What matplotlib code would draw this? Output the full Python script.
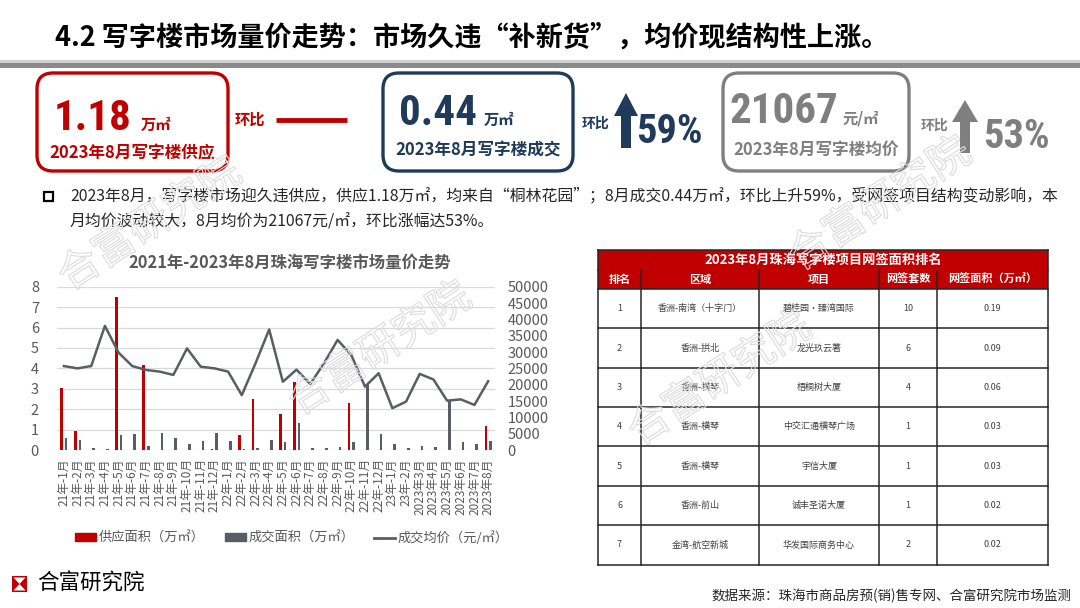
import os
import matplotlib
matplotlib.use('Agg')
import matplotlib.pyplot as plt
import matplotlib.patheffects as pe
from matplotlib import font_manager
from matplotlib.font_manager import FontProperties
from matplotlib.patches import FancyBboxPatch, Rectangle, Polygon, Patch
from matplotlib.lines import Line2D
import numpy as np

plt.rcParams['font.family'] = ['Noto Sans CJK SC', 'DejaVu Sans']

# ---- chart data ----
months = ['21年-1月', '21年-2月', '21年-3月', '21年-4月', '21年-5月', '21年-6月',
          '21年-7月', '21年-8月', '21年-9月', '21年-10月', '21年-11月', '21年-12月',
          '22年-1月', '22年-2月', '22年-3月', '22年-4月', '22年-5月', '22年-6月',
          '22年-7月', '22年-8月', '22年-9月', '22年-10月', '22年-11月', '22年-12月',
          '23年-1月', '23年-2月', '2023年3月', '2023年4月', '2023年5月', '2023年6月',
          '2023年7月', '2023年8月']
supply = [3.05, 0.95, 0, 0, 7.5, 0, 4.16, 0, 0, 0, 0, 0.05,
          0, 0.73, 2.48, 0, 1.78, 3.35, 0, 0, 0, 2.29, 0, 0,
          0, 0, 0, 0, 0, 0, 0, 1.18]
deal = [0.57, 0.49, 0.11, 0.03, 0.74, 0.8, 0.2, 0.85, 0.57, 0.28, 0.42, 0.82,
        0.46, 0.05, 0.1, 0.5, 0.41, 1.3, 0.11, 0.08, 0.15, 0.38, 3.22, 0.77,
        0.29, 0.08, 0.21, 0.13, 2.42, 0.41, 0.28, 0.44]
price = [25700, 25000, 25700, 38000, 29800, 25700, 24500, 24000, 23000, 31100, 25500, 25000,
         24000, 16800, 26500, 36900, 20900, 24600, 20200, 26500, 33700, 29100, 19400, 23500,
         12800, 14800, 23300, 21600, 15100, 15500, 13800, 21067]

# ---- table data ----
tbl_rank = ['1', '2', '3', '4', '5', '6', '7']
tbl_area_name = ['香洲-南湾（十字门）', '香洲-拱北', '香洲-横琴', '香洲-横琴', '香洲-横琴', '香洲-前山', '金湾-航空新城']
tbl_project = ['碧桂园·臻湾国际', '龙光玖云著', '梧桐树大厦', '中交汇通横琴广场', '宇信大厦', '诚丰圣诺大厦', '华发国际商务中心']
tbl_units = ['10', '6', '4', '1', '1', '1', '2']
tbl_sqm = ['0.19', '0.09', '0.06', '0.03', '0.03', '0.02', '0.02']
tbl_header = ['排名', '区域', '项目', '网签套数', '网签面积（万㎡）']

RED = '#C00000'
NAVY = '#203A5A'
GREY = '#7F7F7F'
TXT = '#595959'
DARK = '#5A5D66'


def pick_condensed():
    files = [f.fname for f in font_manager.fontManager.ttflist]
    prefs = ['liberationsansnarrow-bold.', 'robotocondensed-bold.', 'roboto_condensed-bold.',
             'notosans-condensedbold.', 'dejavusanscondensed-bold.', 'opensans-condensedbold.',
             'opensans_condensed-bold.']
    for p in prefs:
        for fn in files:
            if os.path.basename(fn).lower().startswith(p):
                return FontProperties(fname=fn), True
    for fn in files:
        b = os.path.basename(fn).lower()
        if ('condensed' in b or 'narrow' in b) and 'bold' in b and 'italic' not in b \
                and 'semi' not in b and 'extra' not in b:
            return FontProperties(fname=fn), True
    return FontProperties(family='DejaVu Sans', weight='bold'), False


NUM_PROP, CONDENSED = pick_condensed()
NUM_SIZE = 31 if CONDENSED else 21
PCT_SIZE = 29 if CONDENSED else 20

fig = plt.figure(figsize=(10.8, 6.08), dpi=100)
bg = fig.add_axes([0, 0, 1, 1])
bg.set_xlim(0, 1080)
bg.set_ylim(608, 0)
bg.axis('off')

# header
bg.text(55, 38, '4.2 写字楼市场量价走势：市场久违“补新货”，均价现结构性上涨。',
        fontsize=19.5, fontweight='bold', color='black', va='center', ha='left')
bg.add_patch(Rectangle((0, 60), 1080, 2.5, color='#d0d0d0', lw=0))
bg.add_patch(Rectangle((0, 62.5), 1080, 5.5, color='#8a8a8a', lw=0))

# KPI boxes
for x0, x1, c in [(37, 228, RED), (383, 573, NAVY), (723, 909, GREY)]:
    bg.add_patch(FancyBboxPatch((x0, 73), x1 - x0, 98, boxstyle='round,pad=0,rounding_size=16',
                                fc='white', ec=c, lw=2.4))


def big(x, y, s, color, size, ha):
    t = bg.text(x, y, s, ha=ha, va='baseline', fontsize=size, color=color)
    t.set_fontproperties(NUM_PROP)
    t.set_fontsize(size)
    return t


big(132, 130, '1.18', RED, NUM_SIZE, 'right')
bg.text(141, 130, '万㎡', ha='left', va='baseline', fontsize=11, fontweight='bold', color=RED)
bg.text(132, 153, '2023年8月写字楼供应', ha='center', va='center', fontsize=12, fontweight='bold', color=RED)
bg.text(250, 120, '环比', ha='center', va='center', fontsize=11, fontweight='bold', color=RED)
bg.plot([276, 347], [120, 120], color=RED, lw=3.5, solid_capstyle='butt')

big(477, 125, '0.44', NAVY, NUM_SIZE, 'right')
bg.text(484, 125, '万㎡', ha='left', va='baseline', fontsize=11, fontweight='bold', color=NAVY)
bg.text(478, 150, '2023年8月写字楼成交', ha='center', va='center', fontsize=12, fontweight='bold', color=NAVY)
bg.text(596, 124, '环比', ha='center', va='center', fontsize=10, fontweight='bold', color=NAVY)
big(636, 143, '59%', NAVY, PCT_SIZE, 'left')

big(838, 123, '21067', GREY, NUM_SIZE, 'right')
bg.text(843, 123, '元/㎡', ha='left', va='baseline', fontsize=11, fontweight='bold', color=GREY)
bg.text(816, 150, '2023年8月写字楼均价', ha='center', va='center', fontsize=12, fontweight='bold', color=GREY)
bg.text(935, 126, '环比', ha='center', va='center', fontsize=10, fontweight='bold', color=GREY)
big(983, 148, '53%', GREY, PCT_SIZE, 'left')


def up_arrow(cx, top, bottom, head_base, hw, sw, color):
    pts = [(cx - sw, bottom), (cx - sw, head_base), (cx - hw, head_base), (cx, top),
           (cx + hw, head_base), (cx + sw, head_base), (cx + sw, bottom)]
    bg.add_patch(Polygon(pts, closed=True, fc=color, ec='none'))


up_arrow(626, 93, 148, 116, 12, 5, NAVY)
up_arrow(965, 100, 153, 122, 13, 5, GREY)

# bullet paragraph
bg.add_patch(Rectangle((44, 192), 8.5, 8.5, fc='white', ec='black', lw=1.6))
bg.text(70, 196, '2023年8月，写字楼市场迎久违供应，供应1.18万㎡，均来自“桐林花园”；8月成交0.44万㎡，'
        '环比上升59%，受网签项目结构变动影响，本', fontsize=11.4, color='#262626', va='center', ha='left')
bg.text(70, 222, '月均价波动较大，8月均价为21067元/㎡，环比涨幅达53%。',
        fontsize=11.4, color='#262626', va='center', ha='left')

# ---- table ----
cx = [598, 641, 759, 879, 937, 1048]
ty0, ty1, hy1 = 250, 270, 289
rh = (564.5 - hy1) / len(tbl_rank)
bg.add_patch(Rectangle((cx[0], ty0), cx[-1] - cx[0], hy1 - ty0, fc=RED, ec='none'))
bg.text((cx[0] + cx[-1]) / 2, (ty0 + ty1) / 2, '2023年8月珠海写字楼项目网签面积排名',
        ha='center', va='center', fontsize=9.5, fontweight='bold', color='white')
for i, h in enumerate(tbl_header):
    bg.text((cx[i] + cx[i + 1]) / 2, (ty1 + hy1) / 2, h, ha='center', va='center',
            fontsize=8, fontweight='bold', color='white')
line_c = '#262626'
for i in range(len(tbl_rank) + 1):
    y = hy1 + i * rh
    bg.plot([cx[0], cx[-1]], [y, y], color=line_c, lw=1.1)
for x in cx:
    bg.plot([x, x], [ty1, hy1 + rh * len(tbl_rank)], color=line_c, lw=1.1)
bg.plot([cx[0], cx[0]], [ty0, ty1], color=line_c, lw=1.1)
bg.plot([cx[-1], cx[-1]], [ty0, ty1], color=line_c, lw=1.1)
bg.plot([cx[0], cx[-1]], [ty0, ty0], color=line_c, lw=1.1)
for r in range(len(tbl_rank)):
    yc = hy1 + (r + 0.5) * rh
    row = [tbl_rank[r], tbl_area_name[r], tbl_project[r], tbl_units[r], tbl_sqm[r]]
    for i, v in enumerate(row):
        bg.text((cx[i] + cx[i + 1]) / 2, yc, v, ha='center', va='center', fontsize=6.5, color='#404040')

# ---- footer ----
bg.add_patch(Rectangle((12, 576), 15, 16, fc=RED, ec='none'))
bg.add_patch(Polygon([(13.5, 577.5), (25.5, 577.5), (19.5, 584)], fc='white', ec='none'))
bg.add_patch(Polygon([(13.5, 590.5), (25.5, 590.5), (19.5, 584)], fc='white', ec='none'))
bg.text(37, 584, '合富研究院', fontsize=15.5, color='black', va='center', ha='left')
bg.text(1072, 596, '数据来源：珠海市商品房预(销)售专网、合富研究院市场监测',
        fontsize=9.7, color='#262626', va='center', ha='right')

# ---- chart ----
ax = fig.add_axes([57 / 1080, 1 - 450 / 608, 438 / 1080, 163.3 / 608])
x = np.arange(len(months))
ax.bar(x - 0.17, supply, width=0.19, color=RED, zorder=3)
ax.bar(x + 0.17, deal, width=0.19, color=DARK, zorder=3)
ax.set_xlim(-0.5, len(months) - 0.5)
ax.set_ylim(0, 8)
ax.set_yticks(range(0, 9))
ax.grid(axis='y', color='#D9D9D9', lw=0.9, zorder=0)
ax.set_axisbelow(True)
ax.set_xticks(x)
ax.set_xticklabels(months, rotation=90, fontsize=8.5, color=TXT)
ax.tick_params(axis='both', length=0)
ax.tick_params(axis='y', labelsize=10.5, labelcolor=TXT, pad=13)
ax.tick_params(axis='x', pad=6)
for s in ax.spines.values():
    s.set_visible(False)
ax.patch.set_alpha(0)

ax2 = ax.twinx()
ax2.plot(x, price, color=DARK, lw=1.8, zorder=4)
ax2.set_ylim(0, 50000)
ax2.set_yticks(range(0, 50001, 5000))
ax2.tick_params(axis='y', length=0, labelsize=10.5, labelcolor=TXT, pad=9)
for s in ax2.spines.values():
    s.set_visible(False)

fig.text(290 / 1080, 1 - 263 / 608, '2021年-2023年8月珠海写字楼市场量价走势',
         ha='center', va='center', fontsize=11.8, fontweight='bold', color=TXT)

handles = [Patch(color=RED), Patch(color=DARK), Line2D([], [], color=DARK, lw=2)]
fig.legend(handles, ['供应面积（万㎡）', '成交面积（万㎡）', '成交均价（元/㎡）'],
           loc='center', bbox_to_anchor=(292 / 1080, 1 - 538 / 608), ncol=3, frameon=False,
           fontsize=9.5, labelcolor=TXT, handlelength=1.6, handleheight=0.5,
           handletextpad=0.2, columnspacing=1.5)

# ---- watermarks ----
wm = fig.add_axes([0, 0, 1, 1], zorder=10)
wm.set_xlim(0, 1080)
wm.set_ylim(608, 0)
wm.axis('off')
wm.patch.set_alpha(0)
for (wx, wy) in [(150, 225), (380, 350), (720, 380), (880, 205)]:
    wm.text(wx, wy, '合富研究院', rotation=33, fontsize=30, color='none', ha='center', va='center',
            path_effects=[pe.Stroke(linewidth=0.8, foreground='#dcdcdc')])

fig.savefig('out.png', dpi=100)
